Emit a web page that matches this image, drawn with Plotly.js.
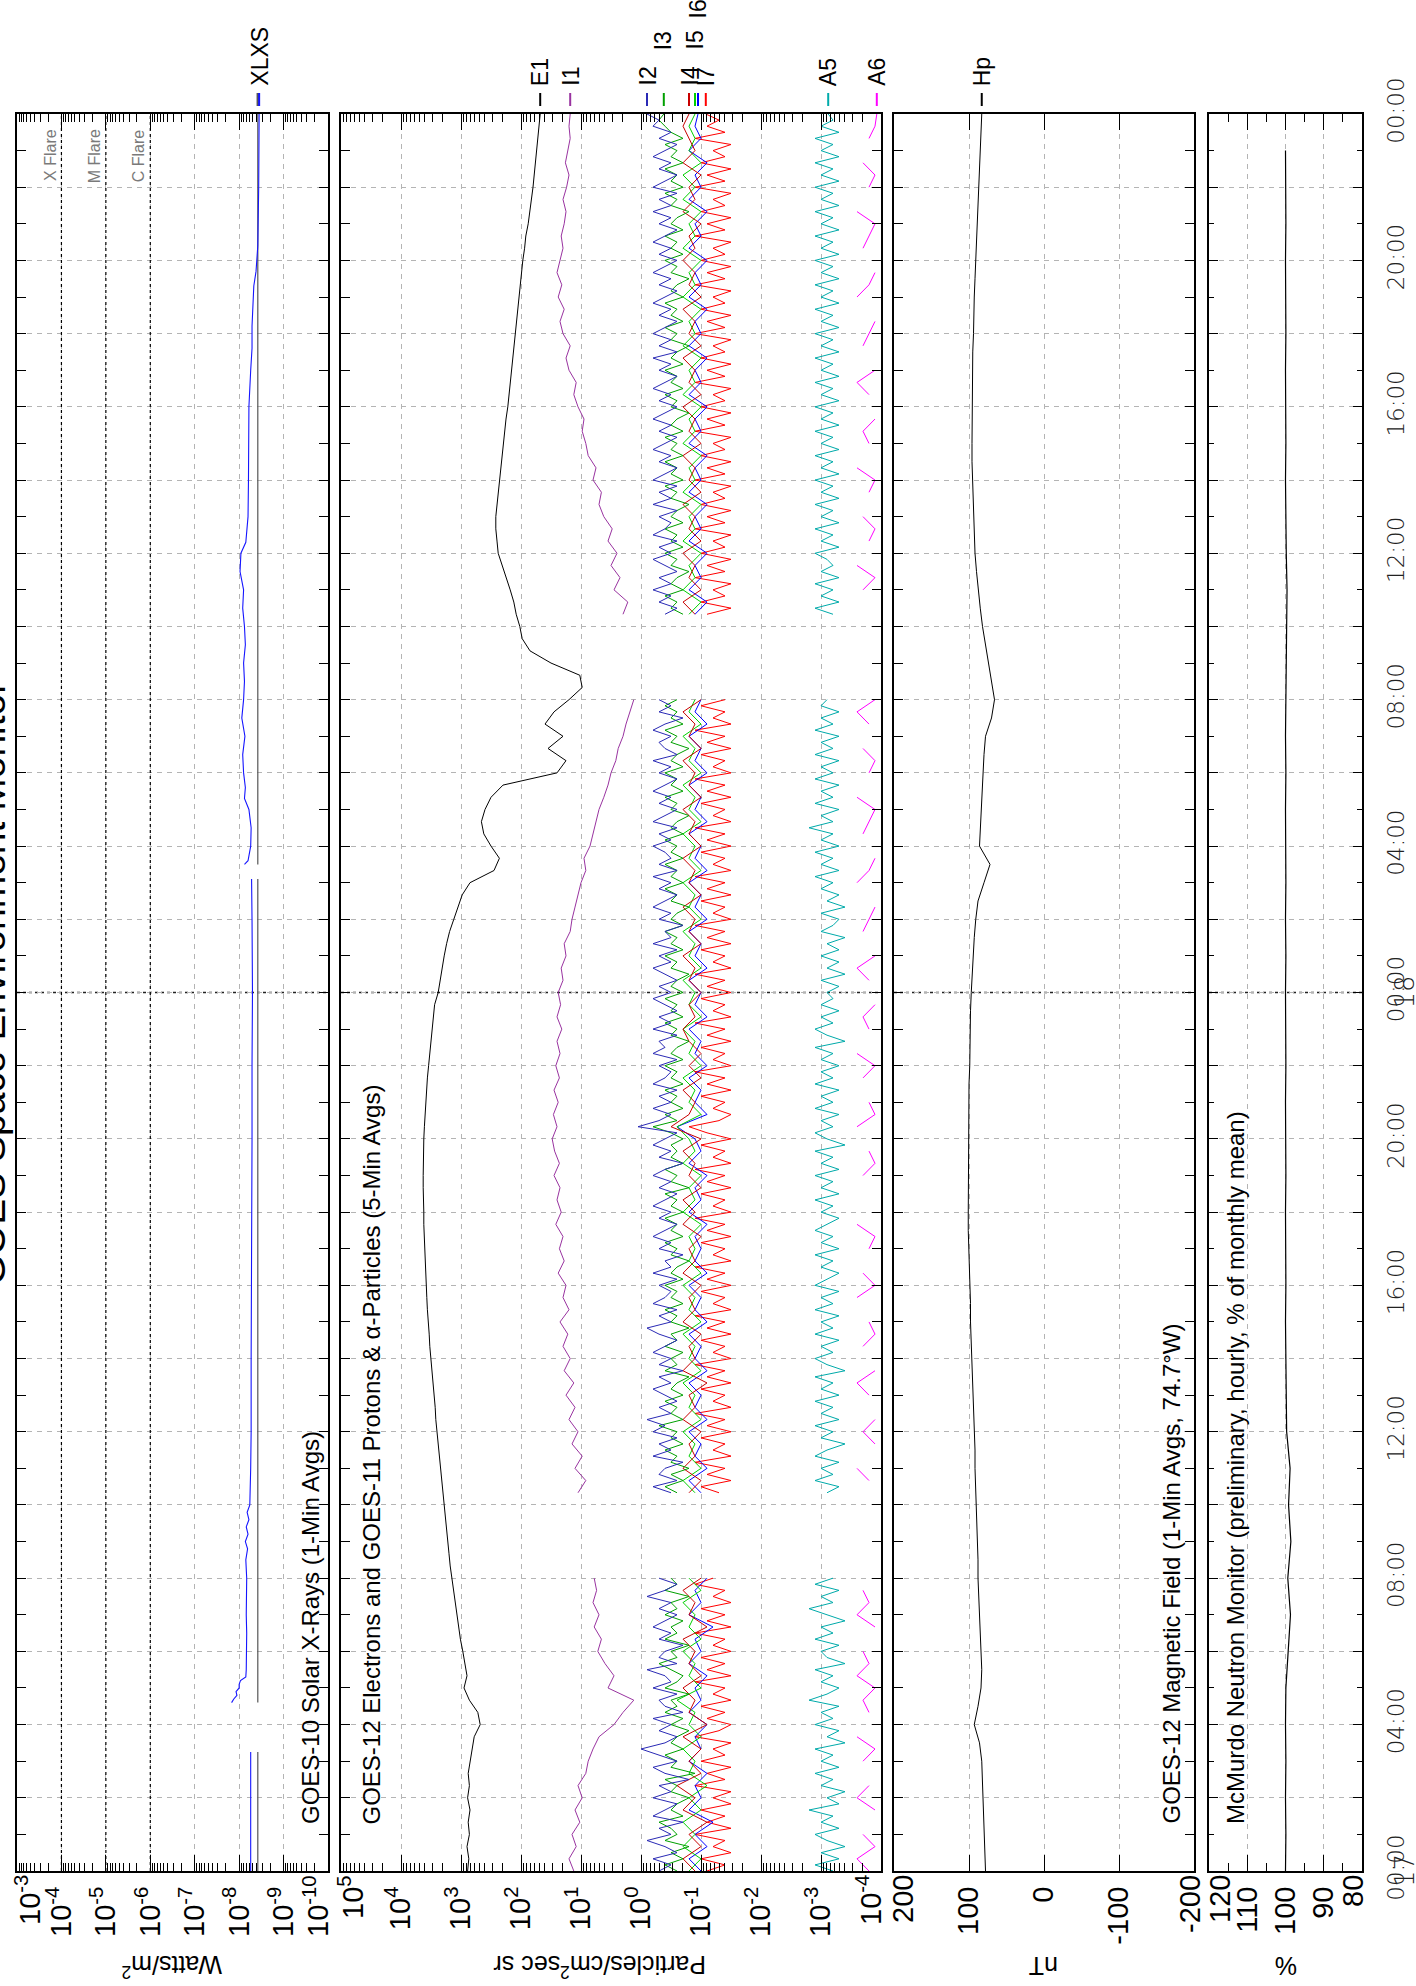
<!DOCTYPE html>
<html><head><meta charset="utf-8">
<script src="https://cdn.plot.ly/plotly-3.0.1.min.js"></script>
<style>html,body{margin:0;padding:0;background:#fff;} #chart{width:1416px;height:1986px;}</style>
</head><body><div id="chart"></div>
<script>
// ---------------- DATA ----------------
// time axis: hours since 00:00 UT on day 17 (0 .. 48)
const timeTickHours = [0,2,4,6,8,10,12,14,16,18,20,22,24,26,28,30,32,34,36,38,40,42,44,46,48];
const timeTickText  = ['00:00','','04:00','','08:00','','12:00','','16:00','','20:00','','00:00','','04:00','','08:00','','12:00','','16:00','','20:00','','00:00'];
const dayLabels = ['17','18'];
const dayLabelHours = [0, 24];

// X-ray panel ticks
const xrayTicks = [1e-3,1e-4,1e-5,1e-6,1e-7,1e-8,1e-9,1e-10];
const xrayTickText = ['10<sup>-3</sup>','10<sup>-4</sup>','10<sup>-5</sup>','10<sup>-6</sup>','10<sup>-7</sup>','10<sup>-8</sup>','10<sup>-9</sup>','10<sup>-10</sup>'];
const flareLevels = [1e-4, 1e-5, 1e-6];
const flareNames = ['X Flare','M Flare','C Flare'];

// particle panel ticks
const partTicks = [1e5,1e4,1e3,1e2,1e1,1e0,1e-1,1e-2,1e-3,1e-4];
const partTickText = ['10<sup>5</sup>','10<sup>4</sup>','10<sup>3</sup>','10<sup>2</sup>','10<sup>1</sup>','10<sup>0</sup>','10<sup>-1</sup>','10<sup>-2</sup>','10<sup>-3</sup>','10<sup>-4</sup>'];
const magTicks = [200,100,0,-100,-200];
const magTickText = ['200','100','0','-100','-200'];
const neutronTicks = [120,110,100,90,80];
const neutronTickText = ['120','110','100','90','80'];

// GOES-10 X-rays, log10(W/m^2), irregular times (hours)
const xl_t = [0,1,2,3,3.25,3.26,4.6,4.7,4.8,4.9,5.0,5.1,5.2,5.3,5.5,6,6.5,7,7.5,8,8.5,8.8,9.0,9.2,9.4,9.6,9.8,10,11,12,14,16,18,20,22,24,26,27.1,27.15,27.5,27.6,28,28.5,29,29.3,29.6,30,30.5,31,31.5,32,32.5,33,33.5,34,34.5,35,35.5,36,36.3,37,38,39,40,41,41.6,42.2,42.7,43.3,43.7,44.4,46,48];
const xl_log = [-8.26,-8.26,-8.27,-8.26,-8.26,null,-7.83,-7.88,-7.95,-7.93,-8.0,-8.0,-8.03,-8.15,-8.16,-8.17,-8.17,-8.16,-8.17,-8.17,-8.15,-8.19,-8.14,-8.2,-8.16,-8.22,-8.18,-8.24,-8.26,-8.27,-8.27,-8.28,-8.28,-8.29,-8.29,-8.3,-8.29,-8.28,null,-8.12,-8.2,-8.26,-8.27,-8.22,-8.12,-8.14,-8.1,-8.08,-8.13,-8.06,-8.1,-8.12,-8.1,-8.14,-8.12,-8.08,-8.1,-8.02,-8.04,-8.15,-8.2,-8.21,-8.22,-8.22,-8.26,-8.29,-8.29,-8.31,-8.33,-8.38,-8.42,-8.44,-8.45];
const xs_t = [0,3.25,3.26,4.6,27.1,27.15,27.5,48];
const xs_log = [-8.42,-8.42,null,-8.42,-8.42,null,-8.42,-8.42];

// GOES-12 electrons & GOES-11 protons, log10(particles/cm2 s sr), every 20 min (3 per hour row)
const e1_log = [
 2.89,2.87,2.90, 2.86,2.88,2.85, 2.89,2.86,2.88, 2.85,2.82,2.78,
 2.68,2.72,2.86, 2.95,2.90,2.93, 2.97,3.01,3.04, 3.07,3.10,3.12,
 3.15,3.18,3.20, 3.22,3.25,3.27, 3.29,3.31,3.33, 3.35,3.37,3.38,
 3.40,3.42,3.43, 3.45,3.47,3.48, 3.50,3.52,3.53, 3.55,3.56,3.57,
 3.58,3.59,3.60, 3.61,3.61,3.62, 3.62,3.63,3.63, 3.63,3.63,3.62,
 3.62,3.61,3.60, 3.59,3.57,3.56, 3.54,3.52,3.50, 3.48,3.46,3.44,
 3.38,3.35,3.32, 3.28,3.24,3.19, 3.12,3.05,2.98, 2.85,2.45,2.36,
 2.50,2.62,2.66, 2.60,2.50,2.30, 1.40,1.25,1.55, 1.30,1.60,1.45,
 1.20,0.98,1.02, 1.50,1.85,1.98, 2.02,2.08,2.12, 2.18,2.25,2.32,
 2.38,2.40,2.42, 2.42,2.40,2.38, 2.35,2.33,2.31, 2.29,2.27,2.25,
 2.22,2.20,2.18, 2.15,2.13,2.11, 2.09,2.07,2.05, 2.03,2.01,1.99,
 1.97,1.94,1.92, 1.88,1.85,1.82, 1.80,1.78,1.76, 1.74,1.71,1.70,
 1.68];
const i1_log = [
 1.12,1.20,1.08, 1.15,1.02,1.10, 0.98,1.05,0.92, 0.88,0.80,0.70,
 0.45,0.30,0.12, 0.55,0.45,0.60, 0.72,0.66,0.78, 0.70,0.80,0.74,
 0.78,null,null, null,null,null, null,1.05,0.92, 1.10,0.98,1.15,
 1.05,1.20,1.10, 1.25,1.12,1.28, 1.18,1.30,1.22, 1.35,1.20,1.30,
 1.25,1.38,1.28, 1.36,1.30,1.42, 1.33,1.40,1.35, 1.45,1.36,1.44,
 1.48,1.40,1.46, 1.38,1.45,1.36, 1.42,1.35,1.40, 1.32,1.40,1.34,
 1.38,1.30,1.33, 1.25,1.28,1.18, 1.15,1.10,1.05, 1.00,0.92,0.95,
 0.85,0.80,0.75, 0.70,0.62,0.55, 0.50,0.42,0.38, 0.30,0.25,0.18,
 0.12,null,null, null,null,null, null,0.30,0.22, 0.45,0.35,0.50,
 0.40,0.55,0.48, 0.62,0.70,0.66, 0.80,0.75,0.88, 0.92,0.98,0.95,
 1.05,1.12,1.08, 1.20,1.25,1.18, 1.30,1.35,1.28, 1.38,1.32,1.40,
 1.35,1.30,1.33, 1.28,1.25,1.30, 1.24,1.20,1.26, 1.22,1.18,1.20,
 1.18];
// every 10 min (6 per hour row)
const i2_log = [
 -0.3,-0.5,-0.2,-0.6,-0.4,-0.1, -0.5,-0.3,-0.7,-0.2,-0.4,-0.6, -0.2,-0.5,-0.3,-0.8,-0.4,-0.2, -0.6,-0.3,0.0,-0.4,-0.6,-0.3,
 -0.5,-0.2,-0.7,-0.4,-0.3,-0.6, -0.2,-0.5,-0.4,-0.1,-0.6,-0.3, -0.4,-0.7,-0.3,-0.5,-0.2,-0.4, -0.6,-0.3,-0.5,-0.1,-0.4,-0.6,
 -0.3,null,null,null,null,null, null,null,null,null,null,null, null,null,-0.5,-0.2,-0.6,-0.3, -0.4,-0.7,-0.2,-0.5,-0.3,-0.6,
 -0.2,-0.4,-0.1,-0.5,-0.3,-0.6, -0.4,-0.2,-0.5,-0.3,-0.7,-0.3, -0.5,-0.2,-0.4,-0.6,-0.3,-0.1, -0.5,-0.3,-0.6,-0.2,-0.4,-0.5,
 -0.3,-0.6,-0.2,-0.5,-0.4,-0.7, -0.3,-0.5,-0.2,-0.4,-0.6,-0.3, -0.5,-0.2,-0.4,-0.6,-0.3,-0.5, -0.2,-0.4,-0.7,-0.3,-0.5,-0.2,
 -0.4,-0.6,0.05,-0.3,-0.5,-0.2, -0.5,-0.3,-0.6,-0.2,-0.4,-0.5, -0.3,-0.6,-0.2,-0.4,-0.3,-0.6, -0.2,-0.5,-0.3,-0.6,-0.4,-0.2,
 -0.5,-0.3,-0.6,-0.4,-0.2,-0.5, -0.3,-0.6,-0.2,-0.5,-0.4,-0.7, -0.3,-0.5,-0.2,-0.4,-0.6,-0.3, -0.5,-0.2,-0.6,-0.3,-0.5,-0.4,
 -0.2,-0.5,-0.3,-0.6,-0.2,-0.4, -0.6,-0.3,-0.5,-0.2,-0.4,-0.6, -0.3,-0.5,-0.2,-0.6,-0.4,-0.3, -0.5,-0.2,-0.4,-0.7,-0.3,-0.5,
 -0.3,null,null,null,null,null, null,null,null,null,null,null, null,null,-0.4,-0.6,-0.3,-0.5, -0.2,-0.5,-0.3,-0.6,-0.4,-0.2,
 -0.5,-0.3,-0.6,-0.2,-0.4,-0.5, -0.3,-0.6,-0.2,-0.5,-0.3,-0.6, -0.2,-0.4,-0.6,-0.3,-0.5,-0.2, -0.4,-0.6,-0.3,-0.5,-0.2,-0.4,
 -0.6,-0.3,-0.5,-0.2,-0.4,-0.6, -0.3,-0.5,-0.2,-0.6,-0.3,-0.5, -0.2,-0.4,-0.6,-0.3,-0.5,-0.2, -0.4,-0.6,-0.3,-0.5,-0.2,-0.4,
 -0.6,-0.3,-0.5,-0.2,-0.4,-0.6, -0.3,-0.5,-0.2,-0.5,-0.3,-0.6, -0.2,-0.4,-0.6,-0.3,-0.5,-0.2, -0.4,-0.6,-0.3,-0.5,-0.2,-0.3,
 -0.1];
const i3_log = [
 -0.6,-0.4,-0.7,-0.5,-0.8,-0.4, -0.6,-0.5,-0.3,-0.7,-0.5,-0.6, -0.8,-0.5,-0.6,-0.4,-0.9,-0.5, -0.6,-0.4,-0.7,-0.5,-0.6,-0.8,
 -0.5,-0.7,-0.4,-0.6,-0.5,-0.8, -0.4,-0.6,-0.7,-0.5,-0.3,-0.6, -0.5,-0.8,-0.4,-0.6,-0.5,-0.7, -0.4,-0.6,-0.5,-0.8,-0.4,-0.6,
 -0.5,null,null,null,null,null, null,null,null,null,null,null, null,null,-0.6,-0.4,-0.7,-0.5, -0.8,-0.5,-0.6,-0.4,-0.7,-0.5,
 -0.6,-0.3,-0.7,-0.5,-0.6,-0.4, -0.7,-0.5,-0.6,-0.8,-0.4,-0.6, -0.5,-0.7,-0.4,-0.6,-0.5,-0.8, -0.5,-0.6,-0.4,-0.7,-0.5,-0.6,
 -0.4,-0.7,-0.5,-0.6,-0.8,-0.5, -0.6,-0.4,-0.7,-0.5,-0.6,-0.4, -0.7,-0.5,-0.6,-0.4,-0.8,-0.5, -0.6,-0.4,-0.7,-0.5,-0.6,-0.5,
 -0.7,-0.5,-0.2,-0.6,-0.4,-0.7, -0.5,-0.6,-0.4,-0.7,-0.5,-0.6, -0.4,-0.7,-0.5,-0.6,-0.8,-0.5, -0.6,-0.4,-0.7,-0.5,-0.6,-0.4,
 -0.7,-0.5,-0.6,-0.8,-0.5,-0.6, -0.4,-0.7,-0.5,-0.6,-0.4,-0.7, -0.5,-0.6,-0.8,-0.5,-0.6,-0.4, -0.7,-0.5,-0.6,-0.4,-0.7,-0.5,
 -0.6,-0.4,-0.7,-0.5,-0.6,-0.8, -0.5,-0.6,-0.4,-0.7,-0.5,-0.6, -0.4,-0.7,-0.5,-0.6,-0.8,-0.5, -0.6,-0.4,-0.7,-0.5,-0.6,-0.4,
 -0.6,null,null,null,null,null, null,null,null,null,null,null, null,null,-0.7,-0.5,-0.6,-0.4, -0.7,-0.5,-0.6,-0.8,-0.5,-0.6,
 -0.4,-0.7,-0.5,-0.6,-0.4,-0.7, -0.5,-0.6,-0.8,-0.5,-0.6,-0.4, -0.7,-0.5,-0.6,-0.4,-0.7,-0.5, -0.6,-0.4,-0.7,-0.5,-0.6,-0.8,
 -0.5,-0.6,-0.4,-0.7,-0.5,-0.6, -0.4,-0.7,-0.5,-0.6,-0.8,-0.5, -0.6,-0.4,-0.7,-0.5,-0.6,-0.4, -0.7,-0.5,-0.6,-0.8,-0.5,-0.6,
 -0.4,-0.7,-0.5,-0.6,-0.4,-0.7, -0.5,-0.6,-0.8,-0.5,-0.6,-0.4, -0.7,-0.5,-0.6,-0.4,-0.7,-0.5, -0.6,-0.4,-0.7,-0.5,-0.4,-0.3,
 -0.38];
// every 20 min
const i4_log = [
 -0.9,-0.7,-1.0, -0.8,-1.1,-0.7, -0.9,-0.6,-1.0, -0.8,-1.0,-0.7,
 -1.1,-0.8,-0.9, -0.7,-1.0,-0.8, -0.9,-0.7,-1.1, -0.8,-0.9,-0.7,
 -1.0,null,null, null,null,null, null,-0.8,-1.0, -0.7,-0.9,-0.8,
 -1.0,-0.7,-0.9, -0.8,-1.1,-0.7, -0.9,-0.8,-1.0, -0.7,-0.9,-0.8,
 -1.0,-0.7,-0.9, -0.8,-1.0,-0.7, -0.9,-0.7,-1.0, -0.8,-0.9,-0.7,
 -1.0,-0.5,-0.8, -0.9,-0.7,-1.0, -0.8,-1.0,-0.8, -0.7,-0.9,-0.8,
 -1.0,-0.8,-0.9, -0.7,-1.0,-0.8, -0.9,-0.7,-1.0, -0.8,-0.9,-0.7,
 -1.0,-0.8,-0.9, -0.7,-1.0,-0.8, -0.9,-0.7,-1.0, -0.8,-0.9,-0.7,
 -1.0,null,null, null,null,null, null,-0.9,-0.7, -1.0,-0.8,-0.9,
 -0.7,-1.0,-0.8, -0.9,-0.7,-1.0, -0.8,-0.9,-0.7, -1.0,-0.8,-0.9,
 -0.7,-1.0,-0.8, -0.9,-0.7,-1.0, -0.8,-0.9,-0.7, -1.0,-0.8,-0.9,
 -0.7,-0.9,-0.8, -1.0,-0.7,-0.9, -0.8,-1.0,-0.7, -0.9,-0.8,-0.7,
 -0.8];
const i5_log = [
 -0.8,-1.0,-0.7, -0.9,-0.7,-1.0, -0.8,-1.1,-0.8, -0.9,-0.7,-1.0,
 -0.8,-0.9,-0.6, -1.0,-0.8,-0.9, -0.7,-1.0,-0.8, -0.9,-0.7,-1.0,
 -0.8,null,null, null,null,null, null,-0.9,-0.7, -1.0,-0.8,-0.9,
 -0.7,-1.0,-0.8, -0.9,-0.7,-1.0, -0.8,-0.9,-0.7, -1.0,-0.8,-0.9,
 -0.7,-1.0,-0.8, -0.9,-0.8,-1.0, -0.7,-0.9,-0.8, -1.0,-0.7,-0.9,
 -0.8,-0.6,-1.0, -0.8,-0.9,-0.7, -1.0,-0.8,-0.9, -0.7,-1.0,-0.8,
 -0.9,-0.7,-1.0, -0.8,-0.9,-0.7, -1.0,-0.8,-0.9, -0.7,-1.0,-0.8,
 -0.9,-0.7,-1.0, -0.8,-0.9,-0.7, -1.0,-0.8,-0.9, -0.7,-1.0,-0.8,
 -0.9,null,null, null,null,null, null,-0.8,-1.0, -0.7,-0.9,-0.8,
 -1.0,-0.7,-0.9, -0.8,-1.0,-0.7, -0.9,-0.8,-1.0, -0.7,-0.9,-0.8,
 -1.0,-0.7,-0.9, -0.8,-1.0,-0.7, -0.9,-0.8,-1.0, -0.7,-0.9,-0.8,
 -1.0,-0.7,-0.9, -0.8,-1.0,-0.7, -0.9,-0.7,-1.0, -0.8,-0.9,-0.8,
 -0.9];
const i6_log = [
 -1.0,-0.8,-1.1, -0.9,-1.2,-0.8, -1.0,-0.9,-1.1, -0.8,-1.0,-0.9,
 -1.1,-0.8,-1.0, -0.9,-1.1,-0.8, -1.0,-0.9,-1.2, -0.8,-1.0,-0.9,
 -1.1,null,null, null,null,null, null,-1.0,-0.8, -1.1,-0.9,-1.0,
 -0.8,-1.1,-0.9, -1.0,-0.8,-1.1, -0.9,-1.0,-0.8, -1.1,-0.9,-1.0,
 -0.8,-1.1,-0.9, -1.0,-0.9,-1.1, -0.8,-1.0,-0.9, -1.1,-0.8,-1.0,
 -0.9,-0.6,-1.1, -0.9,-1.0,-0.8, -1.1,-0.9,-1.0, -0.8,-1.1,-0.9,
 -1.0,-0.8,-1.1, -0.9,-1.0,-0.8, -1.1,-0.9,-1.0, -0.8,-1.1,-0.9,
 -1.0,-0.8,-1.1, -0.9,-1.0,-0.8, -1.1,-0.9,-1.0, -0.8,-1.1,-0.9,
 -1.0,null,null, null,null,null, null,-0.9,-1.1, -0.8,-1.0,-0.9,
 -1.1,-0.8,-1.0, -0.9,-1.1,-0.8, -1.0,-0.9,-1.1, -0.8,-1.0,-0.9,
 -1.1,-0.8,-1.0, -0.9,-1.1,-0.8, -1.0,-0.9,-1.1, -0.8,-1.0,-0.9,
 -1.1,-0.8,-1.0, -0.9,-1.1,-0.8, -1.0,-0.9,-1.1, -0.8,-1.0,-0.9,
 -0.95];
// every 10 min
const i7_log = [
 -1.1,-1.4,-1.0,-1.5,-1.2,-1.4, -0.9,-1.5,-1.1,-1.4,-1.0,-1.5, -1.2,-1.5,-0.9,-1.4,-1.1,-1.5, -1.0,-1.4,-1.2,-1.5,-0.9,-1.3,
 -1.5,-1.1,-1.4,-1.0,-1.5,-1.2, -1.4,-0.9,-1.5,-1.1,-1.4,-1.0, -1.5,-1.2,-1.4,-0.9,-1.5,-1.1, -1.4,-1.0,-1.5,-1.2,-1.4,-0.9,
 -1.2,null,null,null,null,null, null,null,null,null,null,null, null,null,-1.3,-1.0,-1.5,-1.1, -1.4,-0.9,-1.5,-1.2,-1.4,-1.0,
 -1.5,-1.1,-1.4,-0.9,-1.5,-1.2, -1.4,-1.0,-1.5,-1.1,-1.4,-0.9, -1.5,-1.2,-1.4,-1.0,-1.5,-1.1, -1.4,-0.9,-1.5,-1.2,-1.4,-1.0,
 -1.5,-1.1,-1.4,-0.9,-1.5,-1.2, -1.4,-1.0,-1.5,-1.1,-1.4,-0.9, -1.5,-1.2,-1.4,-1.0,-1.5,-1.1, -1.4,-0.9,-1.5,-1.2,-1.4,-1.0,
 -1.5,-1.1,-0.8,-1.3,-1.5,-1.2, -1.4,-1.0,-1.5,-1.1,-1.4,-0.9, -1.5,-1.2,-1.4,-1.0,-1.5,-1.1, -1.4,-0.9,-1.5,-1.2,-1.4,-1.0,
 -1.5,-1.1,-1.4,-0.9,-1.5,-1.2, -1.4,-1.0,-1.5,-1.1,-1.4,-0.9, -1.5,-1.2,-1.4,-1.0,-1.5,-1.1, -1.4,-0.9,-1.5,-1.2,-1.4,-1.0,
 -1.5,-1.1,-1.4,-0.9,-1.5,-1.2, -1.4,-1.0,-1.5,-1.1,-1.4,-0.9, -1.5,-1.2,-1.4,-1.0,-1.5,-1.1, -1.4,-0.9,-1.5,-1.2,-1.4,-1.0,
 -1.4,null,null,null,null,null, null,null,null,null,null,null, null,null,-1.1,-1.5,-1.0,-1.4, -1.2,-1.5,-0.9,-1.4,-1.1,-1.5,
 -1.0,-1.4,-1.2,-1.5,-0.9,-1.4, -1.1,-1.5,-1.0,-1.4,-1.2,-1.5, -0.9,-1.4,-1.1,-1.5,-1.0,-1.4, -1.2,-1.5,-0.9,-1.4,-1.1,-1.5,
 -1.0,-1.4,-1.2,-1.5,-0.9,-1.4, -1.1,-1.5,-1.0,-1.4,-1.2,-1.5, -0.9,-1.4,-1.1,-1.5,-1.0,-1.4, -1.2,-1.5,-0.9,-1.4,-1.1,-1.5,
 -1.0,-1.4,-1.2,-1.5,-0.9,-1.4, -1.1,-1.5,-1.0,-1.4,-1.2,-1.5, -0.9,-1.4,-1.1,-1.5,-1.0,-1.4, -1.2,-1.5,-0.9,-1.4,-1.1,-1.3,
 -1.08];
const a5_log = [
 -3.2,-2.9,-3.3,-3.0,-3.4,-3.1, -2.9,-3.3,-3.0,-3.2,-2.8,-3.3, -3.1,-3.4,-3.0,-3.2,-2.9,-3.3, -3.0,-3.2,-2.9,-3.4,-3.1,-3.3,
 -2.9,-3.2,-3.0,-3.3,-2.8,-3.1, -3.3,-3.0,-3.2,-2.9,-3.4,-3.1, -3.0,-3.3,-2.9,-3.2,-3.0,-3.4, -3.1,-2.8,-3.2,-3.0,-3.3,-2.9,
 -3.2,null,null,null,null,null, null,null,null,null,null,null, null,null,-3.1,-3.3,-2.9,-3.2, -3.0,-3.3,-2.9,-3.1,-3.4,-3.0,
 -3.2,-2.9,-3.3,-3.0,-3.2,-2.9, -3.3,-3.0,-3.2,-2.9,-3.4,-3.1, -2.9,-3.2,-3.0,-3.3,-2.9,-3.2, -3.0,-3.3,-2.9,-3.2,-3.0,-3.3,
 -2.9,-3.1,-3.3,-3.0,-3.2,-2.9, -3.3,-3.0,-3.2,-2.9,-3.1,-3.3, -3.0,-3.2,-2.9,-3.3,-3.0,-3.2, -2.9,-3.3,-3.0,-3.2,-2.9,-3.4,
 -3.1,-2.9,-3.2,-3.0,-3.3,-2.9, -3.2,-3.0,-3.3,-2.9,-3.2,-3.0, -3.3,-3.0,-3.2,-2.9,-3.4,-3.1, -2.9,-3.2,-3.0,-3.3,-3.0,-3.2,
 -3.1,-3.3,-3.0,-3.4,-3.1,-3.3, -3.0,-3.3,-3.1,-3.4,-3.0,-3.2, -3.3,-3.0,-3.4,-3.1,-3.3,-3.0, -3.2,-2.9,-3.3,-3.0,-3.2,-2.9,
 -3.3,-3.0,-3.2,-2.8,-3.2,-3.0, -3.3,-2.9,-3.2,-3.0,-3.3,-2.9, -3.2,-3.0,-3.3,-2.9,-3.2,-3.0, -3.3,-2.9,-3.2,-3.0,-3.3,-3.0,
 -3.1,null,null,null,null,null, null,null,null,null,null,null, null,null,-3.2,-2.9,-3.3,-3.0, -3.2,-2.9,-3.3,-3.0,-3.2,-3.1,
 -2.9,-3.3,-3.0,-3.2,-2.9,-3.3, -3.0,-3.2,-2.9,-3.3,-3.0,-3.2, -2.9,-3.3,-3.0,-3.2,-2.9,-3.3, -3.0,-3.2,-2.9,-3.3,-3.0,-3.2,
 -2.9,-3.3,-3.0,-3.2,-2.9,-3.3, -3.0,-3.2,-2.9,-3.3,-3.0,-3.2, -2.9,-3.3,-3.0,-3.2,-2.9,-3.3, -3.0,-3.2,-2.9,-3.3,-3.0,-3.2,
 -2.9,-3.3,-3.0,-3.2,-2.9,-3.3, -3.0,-3.2,-2.9,-3.3,-3.0,-3.2, -2.9,-3.3,-3.0,-3.2,-2.9,-3.3, -3.0,-3.2,-2.9,-3.3,-3.0,-3.2,
 -3.12];
// every 20 min
const a6_log = [
 -3.8,-3.6,-3.9, -3.7,null,-3.9, -3.6,-3.8,null, -3.7,-3.9,-3.6,
 null,-3.8,-3.7, -3.9,-3.6,-3.8, -3.7,null,-3.9, -3.6,-3.8,-3.7,
 null,null,null, null,null,null, null,null,-3.8, -3.6,null,-3.9,
 -3.7,-3.9,null, -3.8,-3.6,-3.9, null,-3.7,-3.9, -3.8,null,-3.6,
 -3.9,-3.7,null, -3.8,-3.9,-3.6, null,-3.8,null, -3.7,-3.9,-3.8,
 null,-3.6,-3.9, -3.8,null,-3.7, -3.9,-3.6,null, -3.8,-3.7,-3.9,
 null,-3.8,-3.6, -3.9,null,-3.7, -3.8,-3.9,null, -3.6,-3.8,-3.9,
 null,-3.7,-3.8, -3.9,-3.6,null, -3.8,-3.9,-3.7, null,-3.8,-3.6,
 -3.9,null,null, null,null,null, null,-3.8,null, -3.7,-3.9,-3.6,
 null,-3.8,-3.9, -3.7,null,-3.8, -3.9,-3.6,null, -3.8,-3.7,-3.9,
 null,-3.8,-3.6, -3.9,null,-3.7, -3.8,-3.9,null, -3.6,-3.8,-3.9,
 null,-3.7,-3.8, -3.9,-3.6,null, -3.8,-3.9,-3.7, null,-3.8,-3.9,
 -3.93];

// GOES-12 Hp magnetic field (nT), every 30 min
const hp_nT = [
 78,79, 80,81, 81,82, 83,86, 93,88, 84,83, 84,85, 86,87,
 88,88, 89,90, 90,91, 92,92, 93,94, 95,95, 96,97, 98,98,
 99,100, 100,101, 101,101, 101,101, 101,100, 100,100, 99,99, 98,98,
 97,96, 95,93, 91,88, 80,72, 86,85, 84,83, 82,80, 78,70,
 66,70, 75,79, 82,85, 88,90, 92,93, 94,95, 95,96, 96,96,
 96,96, 95,95, 94,94, 93,92, 91,90, 89,88, 87,86, 85,84,
 83];

// McMurdo neutron monitor, % of monthly mean, hourly
const neutron_pct = [
 100.0,99.9,100.0,99.9,100.0,99.9, 99.3,98.7,99.4,98.6,99.2,98.8,
 99.7,99.8,99.9,100.0,99.9,100.0, 100.0,99.9,100.0,100.0,99.9,100.0,
 100.0,99.9,100.0,99.9,100.0,100.0, 99.9,100.0,99.9,99.8,99.7,99.6,
 99.8,99.9,100.0,99.9,100.0,100.0, 99.9,100.0,100.0,99.9,100.0,100.0];

// GOES-12 local midnight (filled) / local noon (open) markers, hours UT
const localMidnightHours = [5, 29];
const localNoonHours = [17, 41];

// ---------------- BUILD ----------------
const W = 1416, H = 1986;
const FONT = 'Liberation Sans, Arial, Helvetica, sans-serif';
const TICKSIZE = 29;
const t20 = e1_log.map((_, i) => i / 3);
const t10 = i2_log.map((_, i) => i / 6);
const t30 = hp_nT.map((_, i) => i / 2);
const t60 = neutron_pct.map((_, i) => i);
const pow10 = a => a.map(v => v === null ? null : Math.pow(10, v));
const lastVal = a => { for (let i = a.length - 1; i >= 0; i--) if (a[i] !== null) return a[i]; return null; };

const colors = {XL:'#1515ff', XS:'#555555', E1:'#000000', I1:'#9933a0', I2:'#2a2ab5', I3:'#00a000',
  I4:'#c80000', I5:'#00d000', I6:'#0000ff', I7:'#ff0000', A5:'#00aaaa', A6:'#ff00ff', Hp:'#000000', NM:'#000000'};

function ln(xaxis, xs, ts, color, width, dash) {
  return {type:'scatter', mode:'lines', x: xs, y: ts, xaxis: xaxis, yaxis: 'y',
    line: {color: color, width: width || 1, dash: dash || 'solid'}, connectgaps: false, hoverinfo: 'skip'};
}

const traces = [];
flareLevels.forEach(L => traces.push(ln('x', [L, L], [0, 48], '#000', 1.2, 'dot')));
traces.push(ln('x', pow10(xs_log), xs_t, colors.XS, 1.2));
traces.push(ln('x', pow10(xl_log), xl_t, colors.XL, 1.1));
const partSeries = [['A6', a6_log, t20], ['A5', a5_log, t10], ['I7', i7_log, t10], ['I6', i6_log, t20], ['I5', i5_log, t20],
  ['I4', i4_log, t20], ['I3', i3_log, t10], ['I2', i2_log, t10], ['I1', i1_log, t20], ['E1', e1_log, t20]];
partSeries.forEach(([n, arr, tt]) => traces.push(ln('x2', pow10(arr), tt, colors[n], 1)));
traces.push(ln('x3', hp_nT, t30, colors.Hp, 1));
traces.push(ln('x4', neutron_pct, t60, colors.NM, 1.2));
traces.push({type:'scatter', mode:'markers', xaxis:'x3', yaxis:'y', cliponaxis:false, hoverinfo:'skip',
  x: localMidnightHours.map(() => -208), y: localMidnightHours,
  marker:{symbol:'triangle-left', size:11, color:'#000'}});
traces.push({type:'scatter', mode:'markers', xaxis:'x3', yaxis:'y', cliponaxis:false, hoverinfo:'skip',
  x: localNoonHours.map(() => -208), y: localNoonHours,
  marker:{symbol:'triangle-left-open', size:11, color:'#000', line:{width:1.3, color:'#000'}}});

function logMinors(decades) {
  const out = [];
  decades.forEach(d => { for (let k = 2; k <= 9; k++) out.push(k * d); });
  return out;
}
// end-of-axis labels are drawn separately (shifted inward, as in the original)
const innerText = arr => arr.map((s, i) => (i === 0 || i === arr.length - 1) ? '' : s);

const gridStyle = {showgrid:true, gridcolor:'#b4b4b4', griddash:'5px,5px', gridwidth:1};
const baseX = Object.assign({
  anchor:'y', side:'bottom', showline:true, linecolor:'#000', linewidth:2, mirror:'ticks',
  ticks:'inside', ticklen:16, tickwidth:1, tickcolor:'#000', zeroline:false, tickangle:-90,
  tickfont:{family:FONT, size:TICKSIZE, color:'#000'}, fixedrange:true, tickmode:'array', ticklabelstandoff:2
}, gridStyle);

const P = px => px / W;
const Q = py => 1 - py / H;
const yDomain = [Q(1871), Q(114)];

const layout = {
  width: W, height: H, margin:{l:0, r:0, t:0, b:0, pad:0},
  paper_bgcolor:'#fff', plot_bgcolor:'#fff', showlegend:false,
  font:{family:FONT, color:'#000'},
  xaxis: Object.assign({}, baseX, {domain:[P(17), P(328)], type:'log', range:[-3, -10],
    tickvals: xrayTicks, ticktext: innerText(xrayTickText),
    minor:{tickmode:'array', tickvals: logMinors([1e-4,1e-5,1e-6,1e-7,1e-8,1e-9,1e-10]), ticks:'inside', ticklen:8, tickcolor:'#000', showgrid:false}}),
  xaxis2: Object.assign({}, baseX, {domain:[P(341), P(881)], type:'log', range:[5, -4],
    tickvals: partTicks, ticktext: innerText(partTickText),
    minor:{tickmode:'array', tickvals: logMinors([1e4,1e3,1e2,1e1,1e0,1e-1,1e-2,1e-3,1e-4]), ticks:'inside', ticklen:8, tickcolor:'#000', showgrid:false}}),
  xaxis3: Object.assign({}, baseX, {domain:[P(894), P(1194)], type:'linear', range:[200, -200],
    tickvals: magTicks, ticktext: innerText(magTickText)}),
  xaxis4: Object.assign({}, baseX, {domain:[P(1209), P(1362)], type:'linear', range:[120, 80],
    tickvals: neutronTicks, ticktext: innerText(neutronTickText),
    minor:{tickmode:'linear', tick0:0, dtick:5, ticks:'inside', ticklen:8, tickcolor:'#000', showgrid:false}}),
  yaxis: Object.assign({domain: yDomain, range:[0, 48], anchor:'x4', side:'right', showline:true, linecolor:'#000', linewidth:2,
    mirror:'allticks', ticks:'inside', ticklen:9, tickcolor:'#000', tickmode:'array', tickvals: timeTickHours, ticktext: timeTickText,
    tickangle:-90, tickfont:{family:'DejaVu Sans', weight:200, size:23, color:'#222'}, ticklabelstandoff:12, zeroline:false, fixedrange:true,
    minor:{tickmode:'linear', tick0:0, dtick:1, ticks:'inside', ticklen:5, tickcolor:'#000', showgrid:false}}, gridStyle),
  shapes: [], annotations: []
};

['x','x2','x3','x4'].forEach(ax => {
  dayLabelHours.slice(1).forEach(h => layout.shapes.push({type:'line', xref: ax + ' domain', yref:'y', x0:0, x1:1, y0:h, y1:h,
    line:{color:'#222', width:1.3, dash:'dot'}, layer:'below'}));
});

const ann = layout.annotations;
const endLabels = [
  ['x', xrayTickText, 11, -12], ['x2', partTickText, 10, -12], ['x3', magTickText, 9, -4], ['x4', neutronTickText, 11, -9]
];
endLabels.forEach(([ax, txt, s0, s1]) => {
  [[0, txt[0], s0], [1, txt[txt.length - 1], s1]].forEach(([d, t, s]) =>
    ann.push({xref: ax + ' domain', yref:'paper', x:d, xshift:s, y:Q(1873), xanchor:'center', yanchor:'top', textangle:-90,
      showarrow:false, text:t, font:{family:FONT, size:TICKSIZE, color:'#000'}}));
});
ann.push({xref:'paper', yref:'paper', x:P(14), y:Q(983), xanchor:'right', yanchor:'middle', textangle:-90, showarrow:false,
  text:'GOES Space Environment Monitor', font:{size:39, family:FONT}});
const tf = {size:24, family:FONT, color:'#000'};
ann.push({xref:'paper', yref:'paper', x:P(326), y:Q(1826), xanchor:'right', yanchor:'bottom', textangle:-90, showarrow:false, font:tf,
  text:'GOES-10 Solar X-Rays (1-Min Avgs)'});
ann.push({xref:'paper', yref:'paper', x:P(355), y:Q(1826), xanchor:'left', yanchor:'bottom', textangle:-90, showarrow:false, font:tf,
  text:'GOES-12 Electrons and GOES-11 Protons &amp; α-Particles (5-Min Avgs)'});
ann.push({xref:'paper', yref:'paper', x:P(1186), y:Q(1826), xanchor:'right', yanchor:'bottom', textangle:-90, showarrow:false, font:tf,
  text:'GOES-12 Magnetic Field (1-Min Avgs, 74.7°W)'});
ann.push({xref:'paper', yref:'paper', x:P(1220), y:Q(1826), xanchor:'left', yanchor:'bottom', textangle:-90, showarrow:false, font:tf,
  text:'McMurdo Neutron Monitor (preliminary, hourly, % of monthly mean)'});
const af = {size:25, family:FONT, color:'#000'};
[['Watts/m<sup>2</sup>', 172], ['Particles/cm<sup>2</sup>sec sr', 600], ['nT', 1044], ['%', 1286]].forEach(([t, x]) =>
  ann.push({xref:'paper', yref:'paper', x:P(x), y:Q(1966), xanchor:'center', yanchor:'middle', textangle:180, showarrow:false, font:af, text:t}));
flareLevels.forEach((L, i) => ann.push({xref:'x', yref:'paper', x:Math.log10(L), y:Q(127), xanchor:'right', yanchor:'top', xshift:-1,
  textangle:-90, showarrow:false, text:flareNames[i], font:{size:16, family:FONT, color:'#7a7a7a'}}));
dayLabels.forEach((d, i) => ann.push({xref:'paper', yref:'y', x:P(1405), y:dayLabelHours[i], xanchor:'center', yanchor:'middle',
  textangle:-90, showarrow:false, text:d, font:{size:26, family:'DejaVu Sans', weight:200, color:'#222'}}));

const legendItems = [
  {label:'XLXS', ax:'x', log:true, val:lastVal(xl_log), color:colors.XL, extra:{val:lastVal(xs_log), color:colors.XS}, row:0},
  {label:'E1', ax:'x2', log:true, val:lastVal(e1_log), color:colors.E1, row:0},
  {label:'I1', ax:'x2', log:true, val:lastVal(i1_log), color:colors.I1, row:0},
  {label:'I2', ax:'x2', log:true, val:lastVal(i2_log), color:colors.I2, row:0},
  {label:'I3', ax:'x2', log:true, val:lastVal(i3_log), color:colors.I3, row:1},
  {label:'I4', ax:'x2', log:true, val:lastVal(i4_log), color:colors.I4, row:0},
  {label:'I5', ax:'x2', log:true, val:lastVal(i5_log), color:colors.I5, row:1},
  {label:'I6', ax:'x2', log:true, val:lastVal(i6_log), color:colors.I6, row:2},
  {label:'I7', ax:'x2', log:true, val:lastVal(i7_log), color:colors.I7, row:0},
  {label:'A5', ax:'x2', log:true, val:lastVal(a5_log), color:colors.A5, row:0},
  {label:'A6', ax:'x2', log:true, val:lastVal(a6_log), color:colors.A6, row:0},
  {label:'Hp', ax:'x3', log:false, val:lastVal(hp_nT), color:colors.Hp, row:0}
];
const rowBottom = [88, 52, 21];
legendItems.forEach(it => {
  const pos = v => it.log ? Math.pow(10, v) : v;
  if (it.extra) layout.shapes.push({type:'line', xref:it.ax, yref:'paper', x0:pos(it.extra.val), x1:pos(it.extra.val), y0:Q(106), y1:Q(93),
    line:{color:it.extra.color, width:2.5}});
  layout.shapes.push({type:'line', xref:it.ax, yref:'paper', x0:pos(it.val), x1:pos(it.val), y0:Q(106), y1:Q(93), line:{color:it.color, width:2}});
  ann.push({xref:it.ax, yref:'paper', x:it.val, y:Q(rowBottom[it.row]), xanchor:'center', yanchor:'bottom', textangle:-90, showarrow:false,
    text:it.label, font:{size:23, family:FONT, color:'#000'}});
});

Plotly.newPlot('chart', traces, layout, {staticPlot:true, displayModeBar:false});
</script></body></html>
